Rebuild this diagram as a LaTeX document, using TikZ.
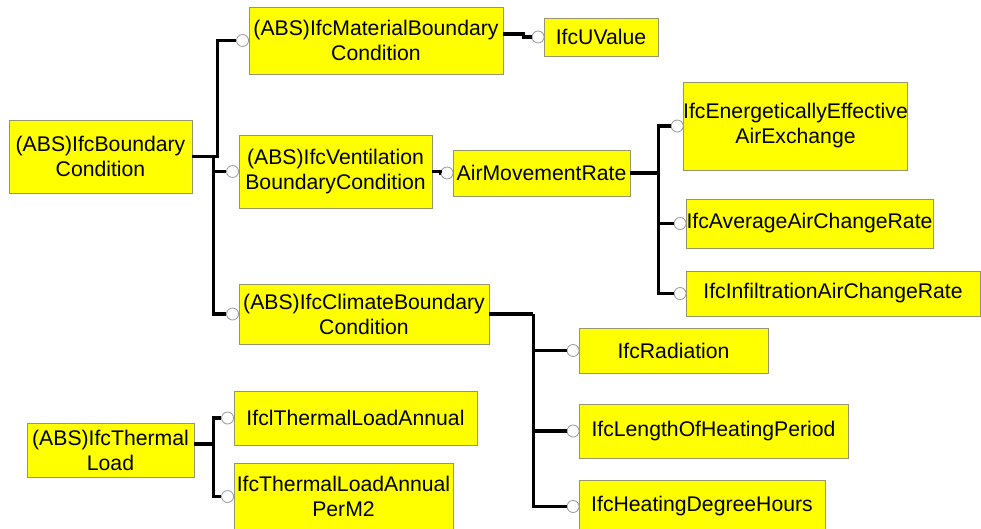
\documentclass[tikz,border=0pt]{standalone}
\usepackage{fontspec}
\setmainfont{Liberation Sans}
\definecolor{boxfill}{RGB}{255,255,0}
\definecolor{boxline}{RGB}{150,150,110}
\begin{document}
\begin{tikzpicture}[x=1pt,y=-1pt,
  box/.style={draw=boxline,line width=0.9pt,fill=boxfill,inner sep=0pt,align=center,
    font=\fontsize{21.2}{25}\selectfont},
  port/.style={circle,draw=gray!80,line width=0.8pt,fill=white,minimum size=12pt,inner sep=0pt},
  conn/.style={line width=3.2pt,black}]
\useasboundingbox (0,0) rectangle (981,528);
\clip (0,0) rectangle (981,528);
% boxes
\node[box,minimum width=183pt,minimum height=73pt] (root) at (100.5,156.5) {(ABS)IfcBoundary\\Condition};
\node[box,minimum width=254pt,minimum height=67pt] (mat) at (376,40.5) {(ABS)IfcMaterialBoundary\\Condition};
\node[box,minimum width=114pt,minimum height=38pt] (uval) at (601,37) {IfcUValue};
\node[box,minimum width=193pt,minimum height=73pt] (vent) at (335.5,171.5) {(ABS)IfcVentilation\\BoundaryCondition};
\node[box,minimum width=177pt,minimum height=46pt] (amr) at (541.5,173) {AirMovementRate};
\node[box,minimum width=219pt,minimum height=88pt] (ene) at (795.5,126) {IfcEnergeticallyEffective\\AirExchange};
\node[box,minimum width=247pt,minimum height=49pt] (avg) at (809.5,223.5) {IfcAverageAirChangeRate};
\node[box,minimum width=294pt,minimum height=45pt] (inf) at (833,293.5) {IfcInfiltrationAirChangeRate};
\node[box,minimum width=250pt,minimum height=60pt] (clim) at (364,314) {(ABS)IfcClimateBoundary\\Condition};
\node[box,minimum width=189pt,minimum height=45pt] (rad) at (673.5,350.5) {IfcRadiation};
\node[box,minimum width=269pt,minimum height=54pt] (len) at (713.5,431) {IfcLengthOfHeatingPeriod};
\node[box,minimum width=246pt,minimum height=53pt] (hdh) at (702,506.5) {IfcHeatingDegreeHours};
\node[box,minimum width=167pt,minimum height=54pt] (tl) at (110.5,450) {(ABS)IfcThermal\\Load};
\node[box,minimum width=243pt,minimum height=54pt] (tla) at (355.5,418) {IfclThermalLoadAnnual};
\node[box,minimum width=219pt,minimum height=67pt] (pm2) at (343.5,496.5) {IfcThermalLoadAnnual\\PerM2};
% ports
\node[port] (pmat) at ([xshift=-6pt]mat.west) {};
\node[port] (puval) at ([xshift=-5.5pt]uval.west) {};
\node[port] (pvent) at ([xshift=-6pt]vent.west) {};
\node[port] (pamr) at ([xshift=-5.5pt]amr.west) {};
\node[port] (pene) at ([xshift=-5.5pt]ene.west) {};
\node[port] (pavg) at ([xshift=-5.5pt]avg.west) {};
\node[port] (pinf) at ([xshift=-5.5pt]inf.west) {};
\node[port] (pclim) at ([xshift=-6pt]clim.west) {};
\node[port] (prad) at ([xshift=-5.5pt]rad.west) {};
\node[port] (plen) at ([xshift=-5.5pt]len.west) {};
\node[port] (phdh) at ([xshift=-5.5pt]hdh.west) {};
\node[port] (ptla) at ([xshift=-6pt]tla.west) {};
\node[port] (ppm2) at ([xshift=-6pt]pm2.west) {};
% connectors
\draw[conn] (root.east) -- ([xshift=25pt]root.east) |- (pmat.west);
\draw[conn] ([xshift=20pt]root.east) -- ([xshift=21pt]root.east) |- (pclim.west);
\draw[conn] ([xshift=21pt]root.east) |- (pvent.west);
\draw[conn] ([yshift=6.5pt]mat.east) -- ([xshift=20pt,yshift=6.5pt]mat.east) |- (puval.west);
\draw[conn] (vent.east) -- ([xshift=8pt]vent.east) |- (pamr.west);
\coordinate (ta) at ([xshift=27.7pt]amr.east);
\draw[conn] (amr.east) -- (ta);
\draw[conn] (ta) |- (pene.west);
\draw[conn] (ta) |- (pavg.west);
\draw[conn] (ta) |- (pinf.west);
\coordinate (tc) at ([xshift=44pt]clim.east);
\draw[conn] (clim.east) -- (tc);
\draw[conn] (tc) |- (prad.west);
\draw[conn] (tc) |- (plen.west);
\draw[conn] (tc) |- (phdh.west);
\coordinate (tt) at ([xshift=19pt,yshift=6pt]tl.east);
\draw[conn] ([yshift=6pt]tl.east) -- (tt);
\draw[conn] (tt) |- (ptla.west);
\draw[conn] (tt) |- (ppm2.west);
\end{tikzpicture}
\end{document}
